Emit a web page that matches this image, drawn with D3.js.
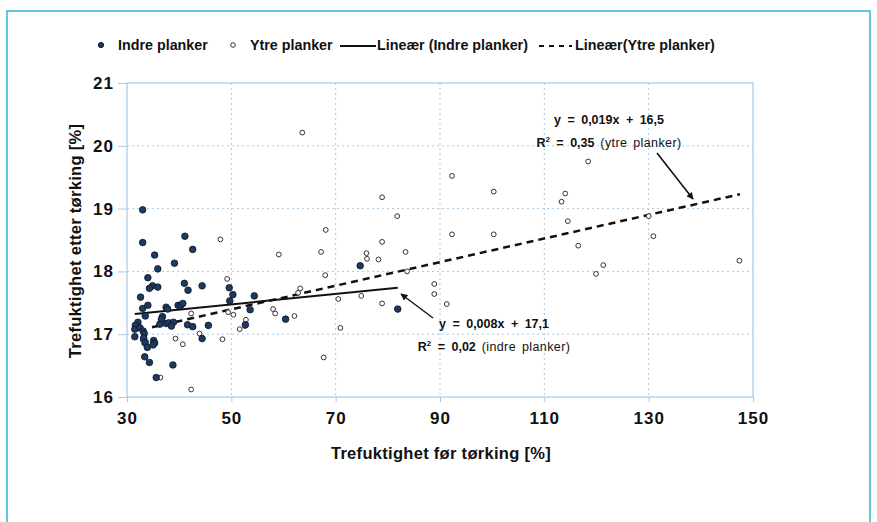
<!DOCTYPE html>
<html>
<head>
<meta charset="utf-8">
<script src="https://cdn.jsdelivr.net/npm/d3@7"></script>
<style>
  body { margin: 0; background: #fff; }
  svg { font-family: "Liberation Sans", Arial, sans-serif; }
</style>
</head>
<body>
<svg id="chart" width="877" height="522"></svg>
<script>
// Indre planker (filled) [moisture before, moisture after]
var indre = [
  [33.0,18.98],[33.0,18.46],[41.1,18.56],[42.6,18.35],[35.3,18.26],[35.9,18.04],[39.1,18.13],
  [34.0,17.90],[34.9,17.77],[34.3,17.73],[35.9,17.75],[41.0,17.81],[41.7,17.70],[44.4,17.77],
  [32.6,17.59],[33.0,17.41],[34.0,17.46],[37.5,17.43],[37.8,17.40],[39.8,17.46],[40.3,17.46],
  [40.7,17.49],[33.5,17.29],[36.8,17.28],[36.6,17.24],[32.1,17.19],[31.6,17.14],[31.5,17.08],
  [32.5,17.10],[33.1,17.05],[33.3,17.01],[36.3,17.16],[37.5,17.17],[38.0,17.18],[38.9,17.19],
  [38.5,17.13],[41.6,17.15],[42.6,17.12],[44.4,16.93],[45.6,17.14],[31.5,16.96],[33.2,16.94],
  [33.5,16.87],[35.1,16.90],[35.3,16.86],[35.0,16.83],[33.9,16.79],[33.4,16.64],[34.3,16.55],
  [38.8,16.51],[35.6,16.31],[49.6,17.74],[50.3,17.63],[49.7,17.53],[54.4,17.61],[53.6,17.39],
  [52.7,17.15],[60.4,17.24],[74.7,18.09],[81.9,17.40]
];
// Ytre planker (open)
var ytre = [
  [63.6,20.21],[47.9,18.51],[59.1,18.27],[68.1,18.66],[67.2,18.31],[68.0,17.94],[78.9,19.18],
  [81.8,18.88],[78.9,18.47],[75.9,18.29],[76.0,18.20],[78.2,18.19],[83.4,18.31],[83.7,18.00],
  [63.2,17.73],[62.8,17.66],[70.5,17.56],[74.9,17.61],[78.9,17.49],[70.9,17.10],[67.7,16.63],
  [62.1,17.29],[58.0,17.40],[58.4,17.33],[49.2,17.88],[49.4,17.35],[50.4,17.31],[51.6,17.08],
  [52.8,17.23],[52.6,17.13],[48.3,16.92],[40.7,16.84],[39.3,16.93],[43.9,17.01],[42.3,17.33],
  [38.6,17.12],[42.3,16.12],[36.4,16.31],[33.0,16.91],[33.3,16.85],
  [118.4,19.75],[92.3,19.52],[100.3,19.27],[114.0,19.24],[113.3,19.11],[114.5,18.80],[130.0,18.88],
  [92.3,18.59],[100.3,18.59],[130.9,18.56],[116.5,18.41],[121.3,18.10],[119.9,17.96],[147.4,18.17],
  [88.9,17.80],[88.9,17.64],[91.3,17.48]
];
// trend lines: slope, intercept, x range
var trendIndre = { slope: 0.0083, intercept: 17.06, x0: 31.5, x1: 81.9 };
var trendYtre = { slope: 0.0188, intercept: 16.456, x0: 34.8, x1: 147.5 };

var xTicks = [30, 50, 70, 90, 110, 130, 150];
var yTicks = [16, 17, 18, 19, 20, 21];

var svg = d3.select("#chart");

// outer frame
svg.append("rect")
  .attr("x", 7).attr("y", 11)
  .attr("width", 863).attr("height", 540)
  .attr("fill", "none")
  .attr("stroke", "#2bb5da")
  .attr("stroke-width", 1.5);

var x = d3.scaleLinear().domain([30, 150]).range([127, 753]);
var y = d3.scaleLinear().domain([16, 21]).range([397, 83]);

var gridColor = "#a9c9e2";

// grid
svg.append("g")
  .selectAll("line")
  .data(xTicks.slice(1, -1))
  .enter().append("line")
  .attr("x1", d => x(d)).attr("x2", d => x(d))
  .attr("y1", y(21)).attr("y2", y(16))
  .attr("stroke", gridColor)
  .attr("stroke-dasharray", "2,3");

svg.append("g")
  .selectAll("line")
  .data(yTicks.slice(1, -1))
  .enter().append("line")
  .attr("x1", x(30)).attr("x2", x(150))
  .attr("y1", d => y(d)).attr("y2", d => y(d))
  .attr("stroke", gridColor)
  .attr("stroke-dasharray", "2,3");

// plot border
svg.append("rect")
  .attr("x", x(30)).attr("y", y(21))
  .attr("width", x(150) - x(30)).attr("height", y(16) - y(21))
  .attr("fill", "none")
  .attr("stroke", gridColor)
  .attr("stroke-width", 1.2);

// axes
var xAxis = svg.append("g")
  .attr("transform", "translate(0," + y(16) + ")")
  .call(d3.axisBottom(x).tickValues(xTicks).tickFormat(d3.format("d")).tickSize(5).tickPadding(10));
var yAxis = svg.append("g")
  .attr("transform", "translate(" + x(30) + ",0)")
  .call(d3.axisLeft(y).tickValues(yTicks).tickFormat(d3.format("d")).tickSize(9).tickPadding(4));

[xAxis, yAxis].forEach(function(a) {
  a.select(".domain").remove();
  a.selectAll(".tick line").attr("stroke", gridColor);
  a.selectAll(".tick text")
    .attr("fill", "#111")
    .attr("font-size", "17px")
    .attr("font-weight", "bold")
    .attr("letter-spacing", "1px")
    .attr("font-family", "'Liberation Sans', Arial, sans-serif");
});

// axis titles
svg.append("text")
  .attr("x", 441).attr("y", 459)
  .attr("text-anchor", "middle")
  .attr("font-size", "16.5px")
  .attr("font-weight", "bold")
  .attr("letter-spacing", "0.3px")
  .attr("fill", "#111")
  .text("Trefuktighet før tørking [%]");

svg.append("text")
  .attr("transform", "translate(81,241) rotate(-90)")
  .attr("text-anchor", "middle")
  .attr("font-size", "16.5px")
  .attr("font-weight", "bold")
  .attr("letter-spacing", "0.3px")
  .attr("fill", "#111")
  .text("Trefuktighet etter tørking [%]");

// trend lines
function trendPts(t) {
  return [[t.x0, t.slope * t.x0 + t.intercept], [t.x1, t.slope * t.x1 + t.intercept]];
}
var line = d3.line().x(d => x(d[0])).y(d => y(d[1]));

svg.append("path")
  .attr("d", line(trendPts(trendYtre)))
  .attr("stroke", "#111")
  .attr("stroke-width", 2.5)
  .attr("stroke-dasharray", "7,5")
  .attr("fill", "none");

svg.append("path")
  .attr("d", line(trendPts(trendIndre)))
  .attr("stroke", "#111")
  .attr("stroke-width", 2)
  .attr("fill", "none");

// points
svg.append("g")
  .selectAll("circle")
  .data(ytre)
  .enter().append("circle")
  .attr("cx", d => x(d[0]))
  .attr("cy", d => y(d[1]))
  .attr("r", 2.4)
  .attr("fill", "#fff")
  .attr("stroke", "#333")
  .attr("stroke-width", 1);

svg.append("g")
  .selectAll("circle")
  .data(indre)
  .enter().append("circle")
  .attr("cx", d => x(d[0]))
  .attr("cy", d => y(d[1]))
  .attr("r", 3.3)
  .attr("fill", "#1e3a60")
  .attr("stroke", "#0a1525")
  .attr("stroke-width", 0.8);

// arrow marker
svg.append("defs").append("marker")
  .attr("id", "arrow")
  .attr("viewBox", "0 0 10 10")
  .attr("refX", 9).attr("refY", 5)
  .attr("markerWidth", 9).attr("markerHeight", 7)
  .attr("markerUnits", "userSpaceOnUse")
  .attr("orient", "auto")
  .append("path")
  .attr("d", "M0,0L10,5L0,10z")
  .attr("fill", "#111");

svg.append("line")
  .attr("x1", 657).attr("y1", 153).attr("x2", 693).attr("y2", 199)
  .attr("stroke", "#111").attr("stroke-width", 1.6)
  .attr("marker-end", "url(#arrow)");
svg.append("line")
  .attr("x1", 433).attr("y1", 318).attr("x2", 401).attr("y2", 294)
  .attr("stroke", "#111").attr("stroke-width", 1.3)
  .attr("marker-end", "url(#arrow)");

// annotations
function annot(xPos, yPos, eq, r2, label) {
  svg.append("text")
    .attr("x", xPos).attr("y", yPos)
    .attr("text-anchor", "middle")
    .attr("font-size", "12.5px")
    .attr("font-weight", "bold")
    .attr("word-spacing", "3px")
    .attr("fill", "#111")
    .text(eq);
  var t = svg.append("text")
    .attr("x", xPos).attr("y", yPos + 23)
    .attr("text-anchor", "middle")
    .attr("font-size", "12.5px")
    .attr("fill", "#111");
  t.append("tspan").attr("font-weight", "bold").text("R");
  t.append("tspan").attr("font-weight", "bold").attr("font-size", "8px").attr("dy", -5).text("2");
  t.append("tspan").attr("font-weight", "bold").attr("dy", 5).attr("word-spacing", "3px").text(" = " + r2);
  t.append("tspan").attr("word-spacing", "2px").attr("letter-spacing", "0.4px").text(" " + label);
}
annot(609, 124, "y = 0,019x + 16,5", "0,35", "(ytre planker)");
annot(494, 328, "y = 0,008x + 17,1", "0,02", "(indre planker)");

// legend
var leg = svg.append("g");
leg.append("circle").attr("cx", 101).attr("cy", 45).attr("r", 2.6).attr("fill", "#1e3a60").attr("stroke", "#0a1525");
leg.append("circle").attr("cx", 233).attr("cy", 45).attr("r", 2.3).attr("fill", "#fff").attr("stroke", "#333");
leg.append("line").attr("x1", 340).attr("x2", 376).attr("y1", 46).attr("y2", 46).attr("stroke", "#111").attr("stroke-width", 1.8);
leg.append("line").attr("x1", 539).attr("x2", 572).attr("y1", 46).attr("y2", 46).attr("stroke", "#111").attr("stroke-width", 1.8).attr("stroke-dasharray", "5,5");
var legItems = [[118, "Indre planker"], [250, "Ytre planker"], [377, "Lineær (Indre planker)"], [575, "Lineær(Ytre planker)"]];
leg.selectAll("text")
  .data(legItems)
  .enter().append("text")
  .attr("x", d => d[0]).attr("y", 50)
  .attr("font-size", "14.3px")
  .attr("font-weight", "bold")
  .attr("fill", "#111")
  .text(d => d[1]);
</script>
</body>
</html>
